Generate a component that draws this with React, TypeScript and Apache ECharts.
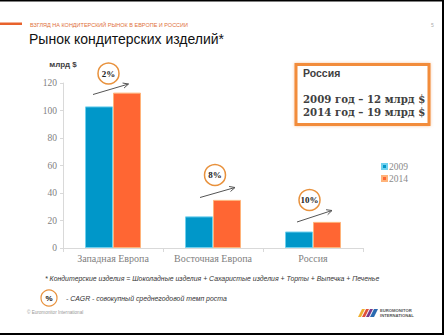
import React, { useEffect, useRef } from "react";
import * as echarts from "echarts";

const categories = ["Западная Европа", "Восточная Европа", "Россия"];
const values2009 = [103, 23, 12];
const values2014 = [113, 35, 19];
const seriesNames = ["2009", "2014"];
const yTicks = { min: 0, max: 120, interval: 20 };
const cagrLabels = ["2%", "8%", "10%"];

const SERIF = "'Liberation Serif', 'DejaVu Serif', serif";
const SANS = "'Liberation Sans', Arial, sans-serif";

function arrow(x1: number, y1: number, x2: number, y2: number) {
  const ang = Math.atan2(y2 - y1, x2 - x1);
  const L = 6;
  const a1 = ang + Math.PI - 0.45;
  const a2 = ang + Math.PI + 0.45;
  return [
    { type: "line", shape: { x1, y1, x2, y2 }, style: { stroke: "#555", lineWidth: 1 } },
    {
      type: "polyline",
      shape: {
        points: [
          [x2 + L * Math.cos(a1), y2 + L * Math.sin(a1)],
          [x2, y2],
          [x2 + L * Math.cos(a2), y2 + L * Math.sin(a2)],
        ],
      },
      style: { stroke: "#555", lineWidth: 1, fill: null },
    },
  ];
}

function cagrCircle(cx: number, cy: number, r: number, label: string) {
  return [
    { type: "circle", shape: { cx, cy, r }, style: { stroke: "#E8913C", lineWidth: 1.5, fill: "#fff" } },
    {
      type: "text",
      x: cx,
      y: cy,
      style: { text: label, font: `bold 9px ${SERIF}`, fill: "#222", align: "center", verticalAlign: "middle" },
    },
  ];
}

export default function App() {
  const ref = useRef<HTMLDivElement>(null);
  useEffect(() => {
    if (!ref.current) return;
    const chart = echarts.init(ref.current, null, { renderer: "svg" });
    const graphic: any[] = [
      // frame lines
      { type: "rect", shape: { x: 0, y: 0, width: 444, height: 1.5 }, style: { fill: "#000" } },
      { type: "rect", shape: { x: 442, y: 0, width: 2, height: 335 }, style: { fill: "#000" } },
      { type: "rect", shape: { x: 0, y: 333, width: 444, height: 2 }, style: { fill: "#000" } },
      // header
      { type: "rect", shape: { x: 0, y: 22.5, width: 22, height: 2.5 }, style: { fill: "#E8622C" } },
      {
        type: "text", x: 30, y: 24.5,
        style: { text: "ВЗГЛЯД НА КОНДИТЕРСКИЙ РЫНОК В ЕВРОПЕ И РОССИИ", font: `5.5px ${SANS}`, fill: "#E0703A", verticalAlign: "middle" },
      },
      {
        type: "text", x: 431, y: 24.5,
        style: { text: "5", font: `5px ${SANS}`, fill: "#aaa", verticalAlign: "middle" },
      },
      {
        type: "text", x: 29, y: 39,
        style: { text: "Рынок кондитерских изделий*", font: `14px ${SANS}`, fill: "#111", verticalAlign: "middle" },
      },
      // Russia box
      {
        type: "rect", shape: { x: 296, y: 64.5, width: 133, height: 60 },
        style: { fill: "#fff", stroke: "#F28C3A", lineWidth: 3, shadowColor: "rgba(240,140,60,0.5)", shadowBlur: 3 },
      },
      {
        type: "text", x: 303, y: 72.5,
        style: { text: "Россия", font: `bold 10.5px ${SANS}`, fill: "#404040", verticalAlign: "middle" },
      },
      {
        type: "text", x: 303, y: 105.6,
        style: {
          text: "2009 год – 12 млрд $\n2014 год – 19 млрд $",
          font: `bold 10.2px 'DejaVu Serif', serif`, lineHeight: 12.4, fill: "#404040", verticalAlign: "middle",
        },
      },
      // CAGR annotations
      ...arrow(93, 94.5, 128.5, 84),
      ...cagrCircle(108.5, 73.5, 10.5, cagrLabels[0]),
      ...arrow(200, 197.5, 235, 187.5),
      ...cagrCircle(215, 175, 10.5, cagrLabels[1]),
      ...arrow(297, 222, 332, 210.5),
      ...cagrCircle(309.5, 200, 10.5, cagrLabels[2]),
      // footnotes
      {
        type: "text", x: 45, y: 278.5,
        style: {
          text: "* Кондитерские изделия = Шоколадные изделия + Сахаристые изделия + Торты + Выпечка + Печенье",
          font: `italic 6.9px ${SANS}`, fill: "#333", verticalAlign: "middle",
        },
      },
      { type: "circle", shape: { cx: 49, cy: 298, r: 8 }, style: { stroke: "#E8913C", lineWidth: 1.2, fill: "#fff" } },
      {
        type: "text", x: 49, y: 298.5,
        style: { text: "%", font: `bold 8px ${SANS}`, fill: "#111", align: "center", verticalAlign: "middle" },
      },
      {
        type: "text", x: 66, y: 298.5,
        style: { text: "- CAGR - совокупный среднегодовой темп роста", font: `italic 6.9px ${SANS}`, fill: "#333", verticalAlign: "middle" },
      },
      {
        type: "text", x: 27, y: 312.5,
        style: { text: "© Euromonitor International", font: `4.6px ${SANS}`, fill: "#999", verticalAlign: "middle" },
      },
      // logo
      { type: "polygon", shape: { points: [[358, 317], [362, 309], [365, 309], [361, 317]] }, style: { fill: "#F0B030" } },
      { type: "polygon", shape: { points: [[362, 317], [366, 309], [369, 309], [365, 317]] }, style: { fill: "#E0503A" } },
      { type: "polygon", shape: { points: [[366, 317], [370, 309], [373, 309], [369, 317]] }, style: { fill: "#7A3A8A" } },
      { type: "polygon", shape: { points: [[370, 317], [374, 309], [378, 309], [374, 317]] }, style: { fill: "#2A6AB0" } },
      {
        type: "text", x: 380, y: 312.8,
        style: { text: "EUROMONITOR\nINTERNATIONAL", font: `bold 4.2px ${SANS}`, lineHeight: 4.5, fill: "#555", verticalAlign: "middle" },
      },
    ];

    chart.setOption({
      animation: false,
      backgroundColor: "#fff",
      grid: { left: 63, right: 81, top: 83, bottom: 87 },
      legend: {
        data: seriesNames,
        orient: "vertical",
        left: 376,
        top: 156,
        icon: "rect",
        itemWidth: 5,
        itemHeight: 5,
        itemGap: 1,
        textStyle: { fontFamily: SERIF, fontSize: 9.5, lineHeight: 11, color: "#8a8a8a", padding: [0, 0, 0, -3] },
      },
      xAxis: {
        type: "category",
        data: categories,
        axisLine: { lineStyle: { color: "#d9d9d9" } },
        axisTick: { show: true, length: 4, lineStyle: { color: "#d9d9d9" } },
        axisLabel: { interval: 0, fontFamily: SERIF, fontSize: 10, color: "#7f7f7f", margin: 5 },
      },
      yAxis: {
        type: "value",
        min: yTicks.min,
        max: yTicks.max,
        interval: yTicks.interval,
        name: "млрд $",
        nameLocation: "end",
        nameGap: 15,
        nameTextStyle: { fontFamily: SANS, fontSize: 8, fontWeight: "bold", color: "#404040" },
        axisLine: { show: true, lineStyle: { color: "#d9d9d9" } },
        axisTick: { show: true, length: 3, lineStyle: { color: "#d9d9d9" } },
        splitLine: { show: false },
        axisLabel: { fontFamily: SERIF, fontSize: 9.5, color: "#7f7f7f", margin: 6 },
      },
      series: [
        {
          name: seriesNames[0],
          type: "bar",
          data: values2009,
          barWidth: 28,
          barGap: "0%",
          itemStyle: { color: "#0097C9", borderColor: "#6FD0EE", borderWidth: 1 },
        },
        {
          name: seriesNames[1],
          type: "bar",
          data: values2014,
          barWidth: 28,
          barGap: "0%",
          itemStyle: { color: "#FF6633", borderColor: "#FFB37A", borderWidth: 1 },
        },
      ],
      graphic,
    });
    return () => chart.dispose();
  }, []);
  return <div ref={ref} style={{ position: "fixed", left: 0, top: 0, width: 444, height: 335 }} />;
}
